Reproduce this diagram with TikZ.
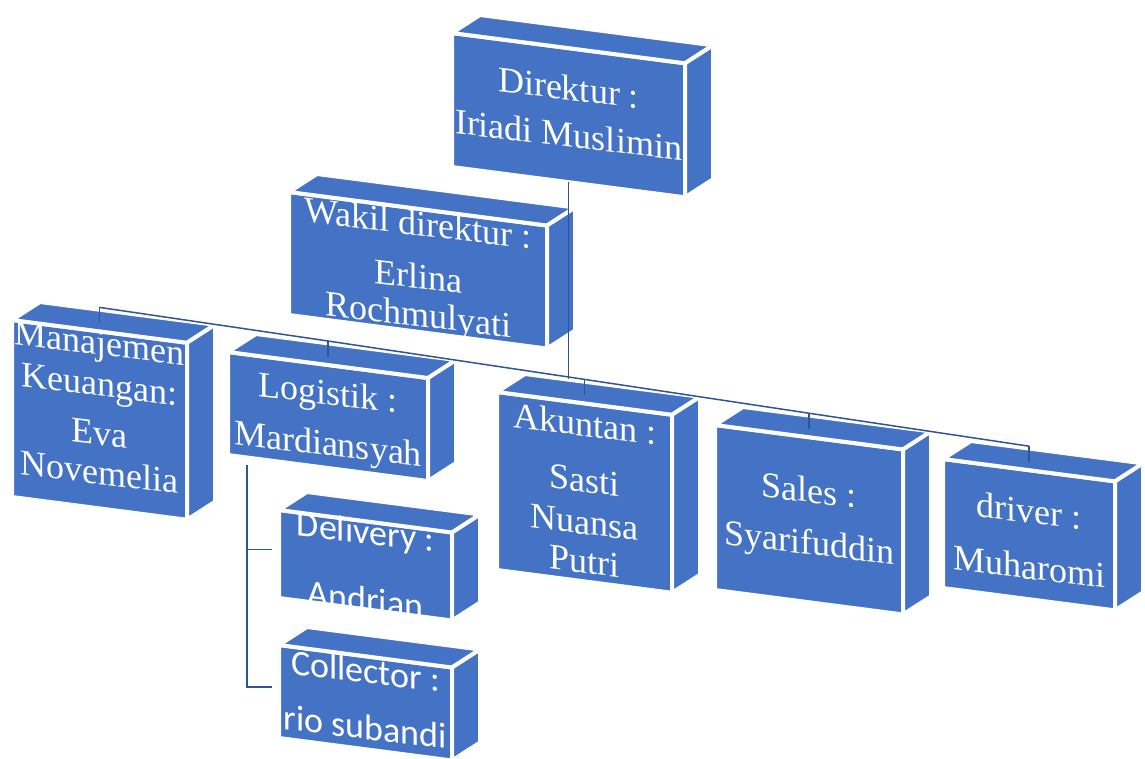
\documentclass[tikz,border=0pt]{standalone}
\usepackage{fontspec}
\setmainfont{Liberation Serif}
\newfontfamily\calfont{Carlito}
\usetikzlibrary{positioning}
\definecolor{boxblue}{HTML}{4472C4}
\definecolor{linkblue}{HTML}{2F5597}

\newcommand{\bxslope}{0.13}
% #1 node options, #2 name, #3 x, #4 y (front top-left), #5 width, #6 height, #7 text
\newcommand{\orgbox}[7][]{%
  \coordinate (#2-a) at (#3,#4);
  \coordinate (#2-b) at ({#3+#5},{#4+\bxslope*#5});
  \coordinate (#2-c) at ({#3+#5},{#4+\bxslope*#5+#6});
  \coordinate (#2-d) at (#3,{#4+#6});
  \filldraw[face] (#2-a) -- (#2-b) -- (#2-c) -- (#2-d) -- cycle;
  \filldraw[face] (#2-a) -- ++(28,-18) -- ++({#5},{\bxslope*#5}) -- (#2-b) -- cycle;
  \filldraw[face] (#2-b) -- ++(28,-18) -- ++(0,{#6}) -- (#2-c) -- cycle;
  \coordinate (#2-t) at ({#3+#5/2},{#4+\bxslope*#5/2-8});
  \coordinate (#2-u) at ({#3+#5/2},{#4+\bxslope*#5/2-24});
  \coordinate (#2-m) at ({#3+#5/2},{#4+\bxslope*#5/2+#6});
  \coordinate (#2-l) at ({#3-7},{#4+0.45*#6});
  \node[boxtext,#1] (#2) at ({#3+#5/2},{#4+\bxslope*#5/2+#6/2}) {#7};
}

\begin{document}
\begin{tikzpicture}[x=1pt,y=-1pt,
  face/.style={fill=boxblue, draw=white, line width=4pt},
  boxtext/.style={text=white, align=center, yslant=-0.12, inner sep=0pt,
    font=\fontsize{36}{36}\selectfont},
  sanstext/.style={font=\calfont\fontsize{36}{36}\selectfont},
  link/.style={draw=linkblue, line width=1.5pt}]
\useasboundingbox (0,0) rectangle (1145,758);

% boxes
\orgbox[yshift=4pt]{dir}{452}{33}{233}{134}{Direktur :\\[11pt] Iriadi Muslimin}
\orgbox[yshift=-2pt]{wak}{289}{192}{258}{123}{Wakil direktur :\\[17pt] Erlina\\[2pt] Rochmulyati}
\orgbox[yshift=12pt]{man}{12}{320}{175}{177}{Manajemen\\[5pt] Keuangan:\\[13pt] Eva\\[3pt] Novemelia}
\orgbox[yshift=-5pt]{log}{228}{352}{200}{103}{Logistik :\\[15pt] Mardiansyah}
\orgbox{aku}{497}{392}{175}{178}{Akuntan :\\[20pt] Sasti\\[6pt] Nuansa\\[3pt] Putri}
\orgbox{sal}{715}{425}{188}{165}{Sales :\\[16pt] Syarifuddin}
\orgbox[yshift=-4pt]{drv}{943}{459}{172}{129}{driver :\\[20pt] Muharomi}
\orgbox[sanstext]{del}{279}{510}{173}{88}{Delivery :\\[32pt] Andrian}
\orgbox[sanstext,yshift=4pt]{col}{279}{645}{173}{93}{Collector :\\[20pt] rio subandi}

% connectors
\draw[link] (man-u) -- (log-u) -- (aku-u) -- (sal-u) -- (drv-u);
\foreach \b in {man,log,aku,sal,drv}
  \draw[link] (\b-u) -- (\b-t);
\draw[link] (dir-m) -- (dir-m |- aku-u);
\coordinate[below right=10pt and 19pt of log-d] (stem);
\draw[link] (stem) |- (del-l);
\draw[link] (stem) |- (col-l);
\end{tikzpicture}
\end{document}
